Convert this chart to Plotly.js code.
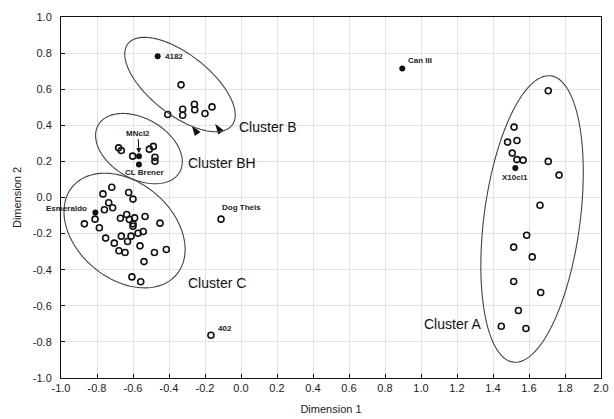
<!DOCTYPE html>
<html><head><meta charset="utf-8">
<script src="https://cdn.plot.ly/plotly-3.0.1.min.js"></script>
<style>html,body{margin:0;padding:0;background:#fff}#chart{width:614px;height:419px}</style>
</head><body><div id="chart"></div>
<script>
// Open circles (strains)
const openX = [
 // cluster B
 -0.333,-0.407,-0.324,-0.324,-0.259,-0.257,-0.200,-0.161,
 // cluster BH
 -0.680,-0.665,-0.602,-0.509,-0.487,-0.478,-0.478,
 // cluster C
 -0.718,-0.767,-0.624,-0.600,-0.735,-0.713,-0.759,-0.870,-0.811,-0.787,-0.752,-0.704,
 -0.670,-0.635,-0.620,-0.591,-0.600,-0.600,-0.533,-0.665,-0.611,-0.630,-0.572,-0.543,
 -0.561,-0.678,-0.644,-0.481,-0.450,-0.415,-0.539,-0.606,-0.557,
 // isolated
 -0.111,-0.167,
 // cluster A
 1.707,1.517,1.481,1.533,1.507,1.533,1.567,1.707,1.767,1.661,1.587,1.515,1.618,1.515,1.665,1.541,1.446,1.583
];
const openY = [
 0.624,0.460,0.489,0.456,0.517,0.486,0.465,0.502,
 0.275,0.260,0.229,0.268,0.283,0.223,0.201,
 0.057,0.020,0.028,-0.009,-0.029,-0.057,-0.068,-0.146,-0.120,-0.168,-0.225,-0.253,
 -0.115,-0.094,-0.122,-0.113,-0.146,-0.159,-0.105,-0.214,-0.214,-0.244,-0.198,-0.188,
 -0.268,-0.295,-0.305,-0.305,-0.142,-0.288,-0.355,-0.440,-0.467,
 -0.120,-0.763,
 0.591,0.390,0.307,0.316,0.246,0.210,0.207,0.200,0.124,-0.043,-0.209,-0.275,-0.329,-0.465,-0.526,-0.626,-0.713,-0.726
];
// Reference strains (filled)
const refNames = ["4182","MNcl2","CL Brener","Esmeraldo","Can III","X10cl1"];
const refX = [-0.463,-0.567,-0.567,-0.809,0.896,1.524];
const refY = [0.783,0.229,0.183,-0.083,0.715,0.164];
// Arrowhead markers in cluster B
const arrX = [-0.274,-0.144];
const arrY = [0.399,0.408];
// Cluster ellipses: centre, semi-axes, angle (deg)
const clusterNames = ["Cluster A","Cluster B","Cluster BH","Cluster C"];
const ellCx = [1.617,-0.339,-0.567,-0.647];
const ellCy = [-0.119,0.626,0.271,-0.183];
const ellA = [0.800,0.367,0.261,0.378];
const ellB = [0.267,0.167,0.167,0.267];
const ellAng = [82.5,-38,-30,-40];
const clusterLabX = [1.005,-0.025,-0.305,-0.305];
const clusterLabY = [-0.70,0.39,0.19,-0.475];
// Isolated strain labels
const isoNames = ["Dog Theis","402"];
const isoX = [-0.111,-0.167];
const isoY = [-0.120,-0.763];

const xTicks = [-1.0,-0.8,-0.6,-0.4,-0.2,0.0,0.2,0.4,0.6,0.8,1.0,1.2,1.4,1.6,1.8,2.0];
const xTickText = ["-1.0","-0.8","-0.6","-0.4","-0.2","0.0","0.2","0.4","0.6","0.8","1.0","1.2","1.4","1.6","1.8","2.0"];
const yTicks = [-1.0,-0.8,-0.6,-0.4,-0.2,0.0,0.2,0.4,0.6,0.8,1.0];
const yTickText = ["-1.0","-0.8","-0.6","-0.4","-0.2","0.0","0.2","0.4","0.6","0.8","1.0"];

function ellipsePath(cx,cy,a,b,angDeg){
  const t = angDeg*Math.PI/180, n=120; let p="";
  for(let i=0;i<=n;i++){
    const u = 2*Math.PI*i/n;
    const x = cx + a*Math.cos(u)*Math.cos(t) - b*Math.sin(u)*Math.sin(t);
    const y = cy + a*Math.cos(u)*Math.sin(t) + b*Math.sin(u)*Math.cos(t);
    p += (i===0?"M":"L")+x.toFixed(4)+","+y.toFixed(4);
  }
  return p+"Z";
}

const traces = [
 {x:openX,y:openY,type:"scatter",mode:"markers",
  marker:{symbol:"circle-open",size:6,color:"#111",line:{width:1.6,color:"#111"}},hoverinfo:"x+y"},
 {x:refX,y:refY,type:"scatter",mode:"markers",text:refNames,
  marker:{symbol:"circle",size:6,color:"#111"}},
 {x:arrX,y:arrY,type:"scatter",mode:"markers",
  marker:{symbol:"arrow",size:11,angle:-35,color:"#111"}}
];

const shapes = ellCx.map((c,i)=>({type:"path",xref:"x",yref:"y",
  path:ellipsePath(ellCx[i],ellCy[i],ellA[i],ellB[i],ellAng[i]),
  line:{color:"#444",width:1.1},fillcolor:"rgba(0,0,0,0)"}));

const smallFont = {family:"Arial, Liberation Sans, sans-serif",size:8,color:"#222"};
const annotations = [];
clusterNames.forEach((n,i)=>annotations.push({x:clusterLabX[i],y:clusterLabY[i],text:n,showarrow:false,
  xanchor:"left",yanchor:"middle",font:{family:"Arial, Liberation Sans, sans-serif",size:14,color:"#111"}}));
// reference labels
annotations.push({x:refX[0],y:refY[0],text:"<b>"+refNames[0]+"</b>",showarrow:false,xanchor:"left",xshift:5,yanchor:"middle",font:smallFont});
annotations.push({x:refX[1],y:refY[1]+0.017,text:"<b>"+refNames[1]+"</b>",showarrow:true,arrowhead:2,arrowsize:1,arrowwidth:1,arrowcolor:"#111",ax:-1,ay:-20,font:smallFont});
annotations.push({x:refX[2],y:refY[2],text:"<b>"+refNames[2]+"</b>",showarrow:false,xanchor:"center",xshift:6,yshift:-8,yanchor:"middle",font:smallFont});
annotations.push({x:refX[3],y:refY[3],text:"<b>"+refNames[3]+"</b>",showarrow:false,xanchor:"center",xshift:-29,yshift:4,yanchor:"middle",font:smallFont});
annotations.push({x:refX[4],y:refY[4],text:"<b>"+refNames[4]+"</b>",showarrow:false,xanchor:"left",xshift:4,yshift:8,yanchor:"middle",font:smallFont});
annotations.push({x:refX[5],y:refY[5],text:"<b>"+refNames[5]+"</b>",showarrow:false,xanchor:"center",yshift:-10,yanchor:"middle",font:smallFont});
annotations.push({x:isoX[0],y:isoY[0],text:"<b>"+isoNames[0]+"</b>",showarrow:false,xanchor:"center",xshift:20,yshift:12,yanchor:"middle",font:smallFont});
annotations.push({x:isoX[1],y:isoY[1],text:"<b>"+isoNames[1]+"</b>",showarrow:false,xanchor:"left",xshift:5,yshift:7,yanchor:"middle",font:smallFont});

const axFont = {family:"Arial, Liberation Sans, sans-serif",size:11,color:"#222"};
const layout = {
  width:614,height:419,margin:{l:61,r:13,t:17,b:41},
  paper_bgcolor:"#fff",plot_bgcolor:"#fff",showlegend:false,
  xaxis:{range:[-1,2],tickvals:xTicks,ticktext:xTickText,showgrid:true,gridcolor:"#e2e2e2",gridwidth:1,
    zeroline:false,showline:true,linecolor:"#111",linewidth:1,mirror:true,ticks:"inside",ticklen:4,tickcolor:"#111",
    tickfont:axFont,title:{text:"Dimension 1",font:axFont,standoff:12}},
  yaxis:{range:[-1,1],tickvals:yTicks,ticktext:yTickText,showgrid:true,gridcolor:"#e2e2e2",gridwidth:1,
    zeroline:false,showline:true,linecolor:"#111",linewidth:1,mirror:true,ticks:"inside",ticklen:4,tickcolor:"#111",
    tickfont:axFont,ticklabelstandoff:6,title:{text:"Dimension 2",font:axFont,standoff:8}},
  shapes:shapes,annotations:annotations
};
Plotly.newPlot("chart",traces,layout,{displayModeBar:false,staticPlot:true});
</script></body></html>
